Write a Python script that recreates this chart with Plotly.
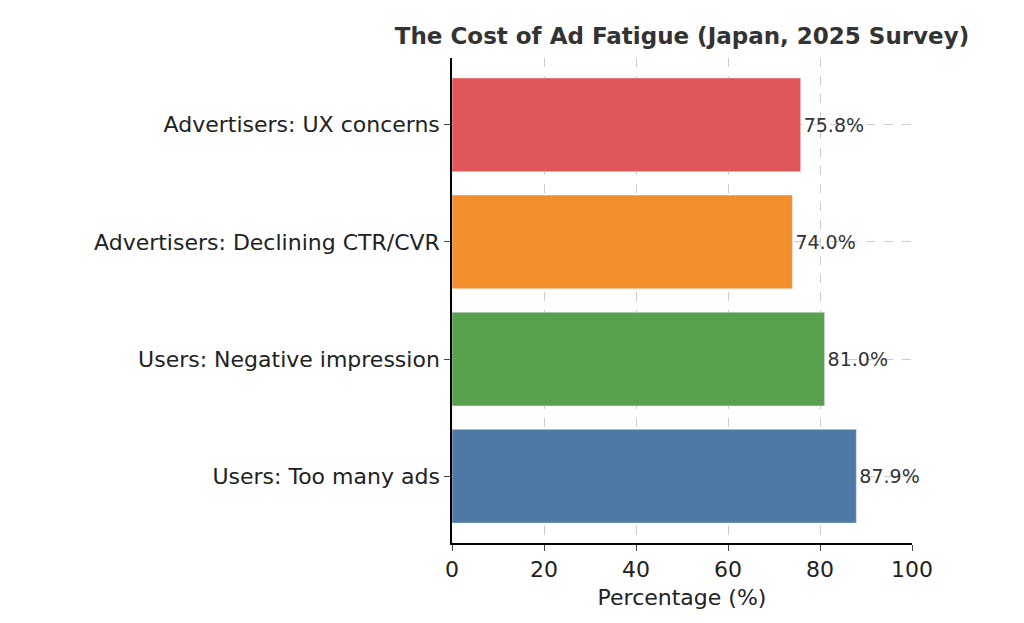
import plotly.graph_objects as go

categories = ["Users: Too many ads", "Users: Negative impression", "Advertisers: Declining CTR/CVR", "Advertisers: UX concerns"]
values = [87.9, 81.0, 74.0, 75.8]
colors = ["#4E79A7", "#59A14F", "#F28E2B", "#E15759"]
labels = [f"{v:.1f}%" for v in values]

fig = go.Figure(go.Bar(
    y=categories, x=values, orientation="h", marker_color=colors, width=0.8,
    text=labels, textposition="outside", cliponaxis=False,
    textfont=dict(size=19, color="#333333", family="DejaVu Sans"),
))
fig.update_layout(
    width=1024, height=623, plot_bgcolor="white", paper_bgcolor="white",
    margin=dict(l=444, r=120, t=50, b=88, pad=0),
    font=dict(family="DejaVu Sans", color="#222222"),
    title=dict(text="<b>The Cost of Ad Fatigue (Japan, 2025 Survey)</b>", x=674/1024, xanchor="center",
               y=1-28/623, yanchor="middle", font=dict(size=23, color="#333333"), automargin=False),
    showlegend=False,
)
fig.update_xaxes(range=[0, 100], dtick=20, showgrid=True, gridcolor="#cccccc", griddash="dash",
                 showline=True, linecolor="black", linewidth=1.5, ticks="outside", ticklen=6,
                 tickfont=dict(size=22), title=dict(text="Percentage (%)", font=dict(size=22), standoff=8),
                 layer="above traces", zeroline=False, automargin=False)
fig.update_yaxes(range=[-0.57, 3.57], showgrid=True, gridcolor="#cccccc", griddash="dash",
                 showline=True, linecolor="black", linewidth=1.5, ticks="outside", ticklen=6,
                 tickfont=dict(size=22), layer="above traces", automargin=False)
fig.write_html("out.html")
